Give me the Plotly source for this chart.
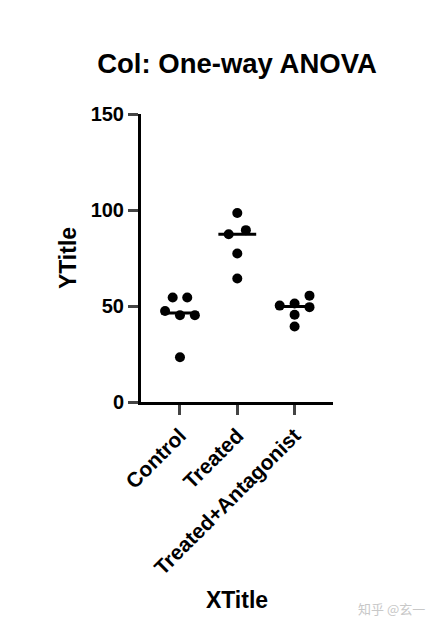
import plotly.graph_objs as go
import numpy as np

########### Data ######

groups = ['Control', 'Treated', 'Treated+Antagonist']
control = [54.4, 54.4, 47.4, 45.2, 45.2, 23.3]
treated = [98.4, 87.4, 89.5, 77.3, 64.3]
antagonist = [55.4, 51.3, 50.2, 49.4, 45.4, 39.3]
# horizontal scatter of the dots
control_dx = [-0.127, 0.127, -0.26, 0.0, 0.26, 0.0]
treated_dx = [0.0, -0.15, 0.15, 0.0, 0.0]
antagonist_dx = [0.26, 0.0, -0.26, 0.26, 0.0, 0.0]

y_ticks = [0, 50, 100, 150]

font_main = 'Arial, Liberation Sans, sans-serif'

########### Figure ######

fig = go.Figure()

series = [control, treated, antagonist]
offsets = [control_dx, treated_dx, antagonist_dx]

for i, (vals, dx) in enumerate(zip(series, offsets)):
    med = float(np.median(vals))
    # median line
    fig.add_trace(go.Scatter(x=[i - 0.33, i + 0.33], y=[med, med], mode='lines',
                             line=dict(color='black', width=3), hoverinfo='skip'))
    fig.add_trace(go.Scatter(x=[i + d for d in dx], y=vals, mode='markers',
                             marker=dict(color='black', size=10), name=groups[i]))

# page has an 8px body margin, so the figure is 16px smaller than the window
fig.update_layout(
    width=431, height=623,
    margin=dict(l=133, r=106, t=106, b=229),
    plot_bgcolor='white', paper_bgcolor='white',
    showlegend=False,
    font=dict(family=font_main, color='black'),
    title=dict(text='<b>Col: One-way ANOVA</b>', xref='paper', x=0.5, xanchor='center',
               y=1 - 55 / 623, yanchor='middle', font=dict(size=27.5)),
)

fig.update_xaxes(
    range=[-0.68, 2.67], tickmode='array', tickvals=[0, 1, 2],
    ticktext=['<b>%s</b>' % g for g in groups], tickangle=-45,
    tickfont=dict(size=21), ticks='outside', ticklen=10, tickwidth=2.5,
    showline=True, linewidth=3, linecolor='black', showgrid=False, zeroline=False,
    title=dict(text='<b>XTitle</b>', font=dict(size=23), standoff=14),
)
fig.update_yaxes(
    range=[0, 150], tickvals=y_ticks, tickfont=dict(size=20),
    ticktext=['<b>%d</b>' % t for t in y_ticks],
    ticks='outside', ticklen=10, tickwidth=2.5,
    showline=True, linewidth=3, linecolor='black', showgrid=False, zeroline=False,
    title=dict(text='<b>YTitle</b>', font=dict(size=23), standoff=8),
)

fig.add_annotation(text='知乎 @玄一', xref='paper', yref='paper',
                   x=(427 - 141) / 192, xanchor='right',
                   y=-(620 - 402) / 288, showarrow=False,
                   font=dict(size=13, color='#c8c8c8', family='Noto Sans CJK SC'))

fig.write_html("out.html")
